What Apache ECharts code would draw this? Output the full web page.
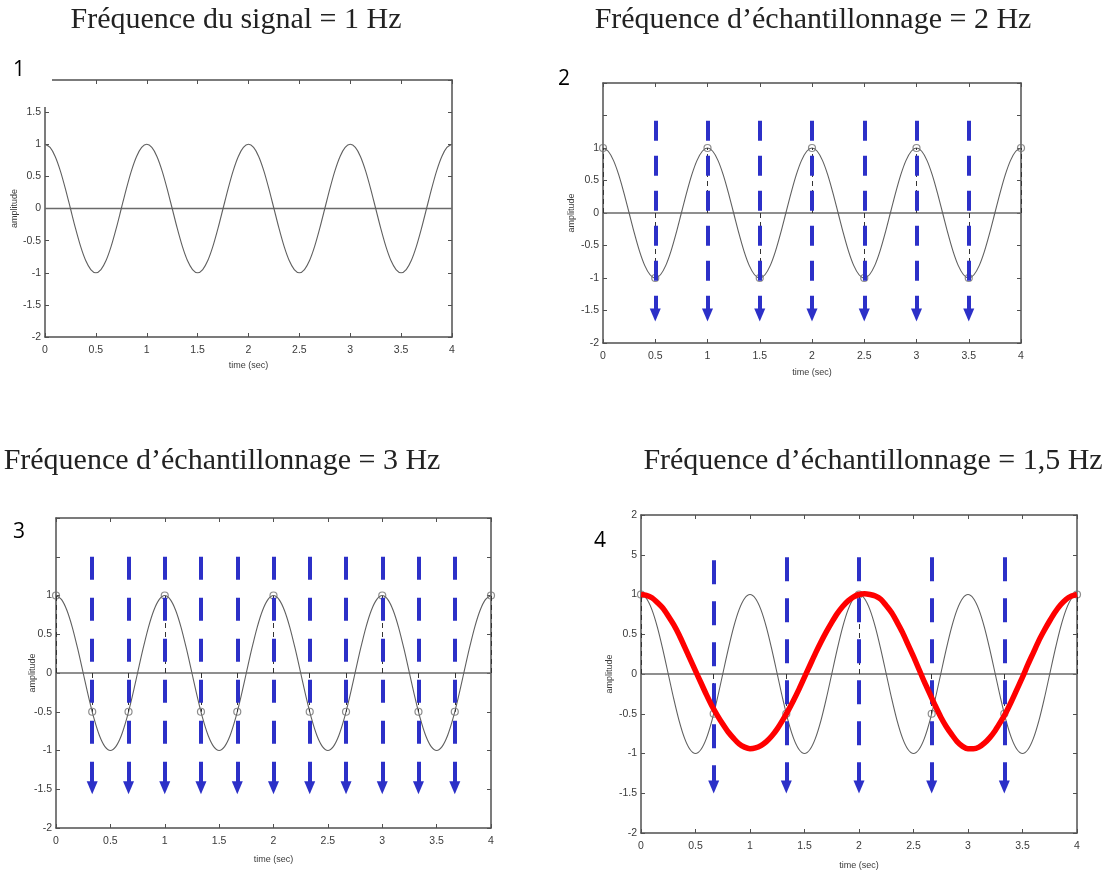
<!DOCTYPE html>
<html>
<head>
<meta charset="utf-8">
<script src="https://cdn.jsdelivr.net/npm/echarts@6/dist/echarts.min.js"></script>
<style>
html,body{margin:0;padding:0;background:#fff;}
#c{width:1113px;height:872px;}
</style>
</head>
<body>
<div id="c"></div>
<script>
// ---------------- DATA ----------------
const TITLES = [
  'Fréquence du signal = 1 Hz',
  'Fréquence d\u2019échantillonnage = 2 Hz',
  'Fréquence d\u2019échantillonnage = 3 Hz',
  'Fréquence d\u2019échantillonnage = 1,5 Hz'
];
const PANEL_NUMBERS = ['1', '2', '3', '4'];
const X_NAME = 'time (sec)';
const Y_NAME = 'amplitude';

// time base (s)
const TIME = [0,0.05,0.1,0.15,0.2,0.25,0.3,0.35,0.4,0.45,0.5,0.55,0.6,0.65,0.7,0.75,0.8,0.85,0.9,0.95,
              1,1.05,1.1,1.15,1.2,1.25,1.3,1.35,1.4,1.45,1.5,1.55,1.6,1.65,1.7,1.75,1.8,1.85,1.9,1.95,
              2,2.05,2.1,2.15,2.2,2.25,2.3,2.35,2.4,2.45,2.5,2.55,2.6,2.65,2.7,2.75,2.8,2.85,2.9,2.95,
              3,3.05,3.1,3.15,3.2,3.25,3.3,3.35,3.4,3.45,3.5,3.55,3.6,3.65,3.7,3.75,3.8,3.85,3.9,3.95,4];
// 1 Hz signal (gray curve)
const SIGNAL = [1,0.95,0.81,0.59,0.31,0,-0.31,-0.59,-0.81,-0.95,-1,-0.95,-0.81,-0.59,-0.31,0,0.31,0.59,0.81,0.95,
                1,0.95,0.81,0.59,0.31,0,-0.31,-0.59,-0.81,-0.95,-1,-0.95,-0.81,-0.59,-0.31,0,0.31,0.59,0.81,0.95,
                1,0.95,0.81,0.59,0.31,0,-0.31,-0.59,-0.81,-0.95,-1,-0.95,-0.81,-0.59,-0.31,0,0.31,0.59,0.81,0.95,
                1,0.95,0.81,0.59,0.31,0,-0.31,-0.59,-0.81,-0.95,-1,-0.95,-0.81,-0.59,-0.31,0,0.31,0.59,0.81,0.95,1];
// reconstructed (aliased) signal, red curve in panel 4
const ALIAS = [1.00,0.99,0.96,0.90,0.83,0.73,0.62,0.49,0.34,0.19,0.04,-0.11,-0.26,-0.40,-0.52,-0.63,-0.73,-0.81,-0.88,-0.92,
               -0.94,-0.93,-0.90,-0.85,-0.78,-0.69,-0.58,-0.46,-0.33,-0.19,-0.04,0.11,0.26,0.40,0.53,0.65,0.76,0.85,0.92,0.97,
               1.00,1.01,1.00,0.98,0.94,0.86,0.77,0.65,0.52,0.37,0.22,0.06,-0.10,-0.25,-0.40,-0.54,-0.66,-0.76,-0.85,-0.91,
               -0.94,-0.94,-0.92,-0.87,-0.80,-0.71,-0.60,-0.48,-0.34,-0.19,-0.04,0.12,0.27,0.42,0.55,0.67,0.78,0.87,0.94,0.98,1.00];

// samples (circles)
const P2_SAMPLE_T = [0,0.5,1,1.5,2,2.5,3,3.5,4];
const P2_SAMPLE_V = [1,-1,1,-1,1,-1,1,-1,1];
const P3_SAMPLE_T = [0,0.333,0.667,1,1.333,1.667,2,2.333,2.667,3,3.333,3.667,4];
const P3_SAMPLE_V = [1,-0.5,-0.5,1,-0.5,-0.5,1,-0.5,-0.5,1,-0.5,-0.5,1];
const P4_SAMPLE_T = [0,0.667,1.333,2,2.667,3.333,4];
const P4_SAMPLE_V = [1,-0.5,-0.5,1,-0.5,-0.5,1];

// sampling arrows (blue dashed): time, top value, end value
const P2_ARROW_T = [0.5,1,1.5,2,2.5,3,3.5];
const P2_ARROW_TOP = [1.42,1.42,1.42,1.42,1.42,1.42,1.42];
const P2_ARROW_END = [-1.57,-1.57,-1.57,-1.57,-1.57,-1.57,-1.57];
const P3_ARROW_T = [0.333,0.667,1,1.333,1.667,2,2.333,2.667,3,3.333,3.667];
const P3_ARROW_TOP = [1.5,1.5,1.5,1.5,1.5,1.5,1.5,1.5,1.5,1.5,1.5];
const P3_ARROW_END = [-1.48,-1.48,-1.48,-1.48,-1.48,-1.48,-1.48,-1.48,-1.48,-1.48,-1.48];
const P4_ARROW_T = [0.667,1.333,2,2.667,3.333];
const P4_ARROW_TOP = [1.43,1.47,1.47,1.47,1.47];
const P4_ARROW_END = [-1.42,-1.42,-1.42,-1.42,-1.42];

// y tick labels shown in each panel (blank = hidden in the picture)
const Y_TICKS = [-2,-1.5,-1,-0.5,0,0.5,1,1.5,2];
const P1_Y_LABELS = ['-2','-1.5','-1','-0.5','0','0.5','1','1.5',''];
const P2_Y_LABELS = ['-2','-1.5','-1','-0.5','0','0.5','1','',''];
const P3_Y_LABELS = ['-2','-1.5','-1','-0.5','0','0.5','1','',''];
const P4_Y_LABELS = ['-2','-1.5','-1','-0.5','0','0.5','1','5','2'];

// ---------------- LAYOUT / STYLE ----------------
const GRIDS = [
  {left:45, top:80, width:407, height:257},
  {left:603, top:83, width:418, height:260},
  {left:56, top:518, width:435, height:310},
  {left:641, top:515, width:436, height:318}
];
const Y_NAME_GAP = [26, 27, 19, 27];
const X_NAME_GAP = [24, 25, 27, 28];
const TITLE_POS = [[236,20],[813,20],[222,461],[873,461]];
const NUM_POS = [[19,70],[564,79],[19,532],[600,541]];
const ARROW_DASH = [[20,15],[20,15],[23,18],[24,17]];
const BLUE = '#2c30c8';
const FRAME = '#505050';

const Y_LABEL_SETS = [P1_Y_LABELS, P2_Y_LABELS, P3_Y_LABELS, P4_Y_LABELS];

function pairs(xs, ys){ return xs.map((x,i)=>[x, ys[i]]); }

const xAxes = [], yAxes = [], grids = [];
GRIDS.forEach((g, i) => {
  grids.push(Object.assign({containLabel:false}, g));
  const tickStyle = {show:true, inside:true, length:4, lineStyle:{color:FRAME, width:1}};
  const lineStyle = {show:true, onZero:false, lineStyle:{color:FRAME, width:1.5}};
  xAxes.push({
    gridIndex:i, type:'value', min:0, max:4, interval:0.5, position:'bottom',
    axisLine:lineStyle, axisTick:tickStyle, splitLine:{show:false},
    axisLabel:{color:'#3a3a3a', fontSize:10.5, fontFamily:'Liberation Sans', margin:8},
    name:X_NAME, nameLocation:'middle', nameGap:X_NAME_GAP[i],
    nameTextStyle:{color:'#3a3a3a', fontSize:9, fontFamily:'Liberation Sans'}
  });
  xAxes.push({
    gridIndex:i, type:'value', min:0, max:4, interval:0.5, position:'top',
    axisLine:lineStyle, axisTick:tickStyle, splitLine:{show:false}, axisLabel:{show:false}
  });
  const labels = Y_LABEL_SETS[i];
  yAxes.push({
    gridIndex:i, type:'value', min:-2, max:2, interval:0.5, position:'left',
    axisLine:lineStyle, axisTick:tickStyle, splitLine:{show:false},
    axisLabel:{color:'#3a3a3a', fontSize:10.5, fontFamily:'Liberation Sans', margin:4,
      formatter:(v)=>{ const k = Y_TICKS.findIndex(t=>Math.abs(t-v)<1e-6); return k>=0 ? labels[k] : ''; }},
    name:Y_NAME, nameLocation:'middle', nameRotate:90, nameGap:Y_NAME_GAP[i], nameMoveOverlap:false,
    nameTextStyle:{color:'#3a3a3a', fontSize:9, fontFamily:'Liberation Sans'}
  });
  yAxes.push({
    gridIndex:i, type:'value', min:-2, max:2, interval:0.5, position:'right',
    axisLine:lineStyle, axisTick:tickStyle, splitLine:{show:false}, axisLabel:{show:false}
  });
});

const series = [];
const SAMPLES = [null, [P2_SAMPLE_T,P2_SAMPLE_V], [P3_SAMPLE_T,P3_SAMPLE_V], [P4_SAMPLE_T,P4_SAMPLE_V]];
const ARROWS = [null, [P2_ARROW_T,P2_ARROW_TOP,P2_ARROW_END], [P3_ARROW_T,P3_ARROW_TOP,P3_ARROW_END], [P4_ARROW_T,P4_ARROW_TOP,P4_ARROW_END]];

for (let i = 0; i < 4; i++) {
  const ax = {xAxisIndex:2*i, yAxisIndex:2*i};
  // zero line
  series.push(Object.assign({type:'line', data:[[0,0],[4,0]], showSymbol:false, silent:true,
    lineStyle:{color:'#6a6a6a', width:1.5}, z:2}, ax));
  // signal
  series.push(Object.assign({type:'line', data:pairs(TIME, SIGNAL), smooth:0.3, showSymbol:false, silent:true,
    lineStyle:{color:'#606060', width:1.1}, z:3}, ax));
  if (SAMPLES[i]) {
    const [st, sv] = SAMPLES[i];
    // thin stems from the axis to each sample
    series.push(Object.assign({type:'line', data:[], silent:true, z:3,
      markLine:{silent:true, symbol:['none','none'], animation:false, label:{show:false},
        lineStyle:{color:'#333', width:1, type:[5,4]},
        data: st.map((t,k)=>[{coord:[t,0]},{coord:[t,sv[k]]}])}}, ax));
    // sample circles
    series.push(Object.assign({type:'scatter', data:pairs(st, sv), symbol:'circle', symbolSize:7, silent:true,
      itemStyle:{color:'rgba(255,255,255,0)', borderColor:'#707070', borderWidth:1.2}, z:4}, ax));
  }
  if (i === 3) {
    series.push(Object.assign({type:'line', data:pairs(TIME, ALIAS), smooth:0.3, showSymbol:false, silent:true,
      lineStyle:{color:'#ff0000', width:5.5}, z:5}, ax));
  }
  if (ARROWS[i]) {
    const [at, atop, aend] = ARROWS[i];
    series.push(Object.assign({type:'line', data:[], silent:true, z:6,
      markLine:{silent:true, symbol:['none','triangle'], symbolSize:[11,13], animation:false, label:{show:false},
        lineStyle:{color:BLUE, width:4, type:ARROW_DASH[i], opacity:1},
        itemStyle:{color:BLUE},
        data: at.map((t,k)=>[{coord:[t,atop[k]]},{coord:[t,aend[k]]}])}}, ax));
  }
}

const graphics = [];
// white patch over the cropped top-left corner of panel 1
graphics.push({type:'rect', shape:{x:0, y:62, width:52, height:45}, style:{fill:'#fff'}, z:9});
TITLES.forEach((t,i)=>{
  graphics.push({type:'text', x:TITLE_POS[i][0], y:TITLE_POS[i][1], z:10,
    style:{text:t, fill:'#222', font:'30px "Liberation Serif"', textAlign:'center', textVerticalAlign:'middle'}});
});
PANEL_NUMBERS.forEach((t,i)=>{
  graphics.push({type:'text', x:NUM_POS[i][0], y:NUM_POS[i][1], z:10,
    style:{text:t, fill:'#000', font:'21px "Open Sans"', textAlign:'center', textVerticalAlign:'middle'}});
});

const chart = echarts.init(document.getElementById('c'), null, {renderer:'canvas'});
chart.setOption({
  animation:false,
  backgroundColor:'#fff',
  grid:grids, xAxis:xAxes, yAxis:yAxes, series:series, graphic:graphics
});
</script>
</body>
</html>
